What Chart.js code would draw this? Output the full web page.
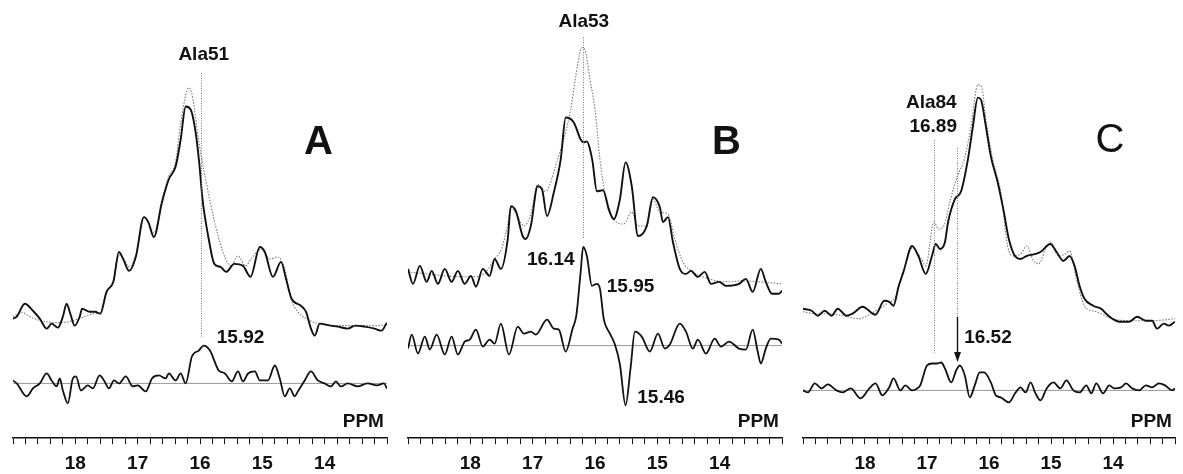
<!DOCTYPE html>
<html>
<head>
<meta charset="utf-8">
<script src="https://cdn.jsdelivr.net/npm/chart.js@4.4.0/dist/chart.umd.min.js"></script>
<style>
html, body { margin: 0; padding: 0; background: #fff; }
#wrap { position: relative; width: 1183px; height: 474px; overflow: hidden; }
canvas { position: absolute; top: 0; }
</style>
</head>
<body>
<div id="wrap">
  <canvas id="cA" width="395" height="484" style="left:0px"></canvas>
  <canvas id="cB" width="395" height="484" style="left:395px"></canvas>
  <canvas id="cC" width="393" height="484" style="left:790px"></canvas>
</div>
<script>
// [ppm, intensity]; intensity relative to each trace's baseline
const A_obs = [[19.00,2],[18.94,4],[18.81,17],[18.68,10],[18.57,2],[18.46,-8],[18.38,-3],[18.28,-7],[18.20,4],[18.14,17],[18.08,7],[18.01,-5],[17.93,4],[17.89,12],[17.77,9],[17.68,9],[17.60,7],[17.50,29],[17.39,39],[17.30,69],[17.22,60],[17.14,50],[17.03,64],[16.90,104],[16.83,99],[16.74,84],[16.61,119],[16.50,142],[16.39,155],[16.31,182],[16.23,215],[16.15,212],[16.07,189],[16.01,157],[15.96,122],[15.86,82],[15.77,57],[15.67,54],[15.58,49],[15.45,57],[15.31,55],[15.19,44],[15.04,74],[14.96,69],[14.83,44],[14.70,59],[14.62,42],[14.53,22],[14.38,15],[14.30,9],[14.22,-8],[14.16,-15],[14.08,-3],[13.90,-5],[13.79,-6],[13.63,-8],[13.51,-5],[13.36,-6],[13.20,-8],[13.09,-10],[13.00,-2]];
const A_fit = [[19.0,4],[18.85,8],[18.7,3],[18.55,0],[18.3,-2],[18.1,-1],[17.9,3],[17.7,7],[17.6,8],[17.5,28],[17.39,40],[17.3,66],[17.22,62],[17.14,54],[17.03,66],[16.9,104],[16.83,100],[16.74,88],[16.61,122],[16.5,145],[16.39,160],[16.31,198],[16.18,234],[16.12,225],[16.02,180],[15.91,142],[15.75,95],[15.59,62],[15.5,55],[15.39,65],[15.27,55],[15.18,62],[15.02,72],[14.88,62],[14.75,64],[14.64,52],[14.54,22],[14.43,9],[14.3,2],[14.1,-3],[13.8,-5],[13.5,-5],[13.2,-5],[13.0,-4]];
const A_diff = [[19.0,3],[18.94,0],[18.78,-13],[18.68,-5],[18.57,0],[18.46,10],[18.38,3],[18.30,-3],[18.25,5],[18.20,-7],[18.12,-20],[18.04,5],[17.99,7],[17.91,-7],[17.80,-2],[17.72,-5],[17.61,8],[17.54,3],[17.46,-5],[17.38,3],[17.30,0],[17.19,7],[17.08,-3],[17.00,-2],[16.87,-8],[16.77,5],[16.66,8],[16.55,5],[16.50,10],[16.39,3],[16.31,10],[16.23,0],[16.13,27],[16.02,33],[15.94,38],[15.84,33],[15.70,13],[15.60,10],[15.49,2],[15.39,12],[15.31,2],[15.23,10],[15.12,12],[15.04,3],[14.91,3],[14.80,18],[14.72,5],[14.64,-13],[14.56,-5],[14.48,-13],[14.43,-8],[14.32,3],[14.22,12],[14.11,3],[14.00,0],[13.90,-3],[13.82,2],[13.74,-3],[13.63,0],[13.47,-3],[13.31,0],[13.16,-2],[13.05,0],[13.0,-5]];

const B_obs = [[19.0,10],[18.92,-5],[18.81,13],[18.70,-3],[18.62,8],[18.52,-5],[18.41,10],[18.30,-3],[18.20,8],[18.09,-5],[17.99,3],[17.91,-8],[17.80,10],[17.69,3],[17.61,20],[17.51,10],[17.40,40],[17.35,73],[17.27,68],[17.16,43],[17.11,40],[17.03,53],[16.92,93],[16.85,90],[16.77,63],[16.66,87],[16.55,120],[16.47,162],[16.34,157],[16.23,140],[16.18,137],[16.13,138],[16.08,130],[16.04,118],[15.97,88],[15.87,89],[15.78,70],[15.70,60],[15.60,80],[15.51,117],[15.41,93],[15.31,43],[15.17,53],[15.07,82],[14.96,72],[14.91,57],[14.83,62],[14.75,37],[14.64,10],[14.54,5],[14.46,8],[14.35,2],[14.24,7],[14.14,-5],[14.01,-3],[13.90,-7],[13.69,-5],[13.58,0],[13.47,-13],[13.34,10],[13.26,-3],[13.16,-15],[13.05,-15],[13.0,-12]];
const B_fit = [[19.0,7],[18.7,5],[18.4,3],[18.0,2],[17.8,4],[17.61,20],[17.5,30],[17.4,55],[17.35,72],[17.27,66],[17.14,53],[17.03,65],[16.92,95],[16.80,88],[16.6,120],[16.39,170],[16.31,203],[16.21,232],[16.16,230],[16.08,200],[16.00,170],[15.92,120],[15.86,93],[15.78,73],[15.70,60],[15.54,55],[15.41,67],[15.31,53],[15.17,53],[15.07,80],[14.96,67],[14.83,65],[14.72,40],[14.59,17],[14.43,7],[14.17,0],[13.90,-3],[13.63,-2],[13.37,-3],[13.0,-5]];
const B_diff = [[19.0,-3],[18.94,11],[18.84,-8],[18.73,9],[18.65,-4],[18.54,11],[18.41,-9],[18.30,9],[18.20,-9],[18.09,4],[18.01,6],[17.91,16],[17.80,-1],[17.69,6],[17.61,2],[17.51,22],[17.38,-9],[17.24,19],[17.14,12],[17.03,14],[16.95,11],[16.77,26],[16.66,17],[16.58,16],[16.47,-6],[16.36,17],[16.30,30],[16.23,74],[16.19,99],[16.13,90],[16.05,60],[15.97,62],[15.92,57],[15.86,27],[15.76,12],[15.68,1],[15.60,-19],[15.51,-60],[15.43,-23],[15.36,14],[15.25,9],[15.12,-6],[14.99,12],[14.88,-3],[14.80,1],[14.64,22],[14.54,14],[14.43,-3],[14.35,6],[14.22,-8],[14.08,7],[13.98,-1],[13.85,4],[13.69,-3],[13.58,-4],[13.47,16],[13.39,-6],[13.34,-18],[13.26,-3],[13.18,7],[13.05,6],[13.0,2]];

const C_obs = [[19.0,5],[18.86,3],[18.76,-2],[18.65,3],[18.54,-2],[18.44,5],[18.30,-2],[18.20,0],[18.04,7],[17.83,-1],[17.69,13],[17.61,12],[17.54,8],[17.46,27],[17.38,42],[17.24,68],[17.14,58],[17.02,40],[16.92,58],[16.86,70],[16.79,65],[16.71,72],[16.66,92],[16.55,115],[16.45,123],[16.34,155],[16.26,188],[16.18,217],[16.13,215],[16.05,188],[15.97,158],[15.86,132],[15.76,102],[15.68,75],[15.57,57],[15.49,55],[15.39,58],[15.25,60],[15.17,62],[15.01,70],[14.91,62],[14.80,53],[14.70,58],[14.62,48],[14.54,28],[14.46,15],[14.32,8],[14.19,5],[14.11,0],[14.01,-5],[13.90,-8],[13.74,-8],[13.61,-3],[13.47,-7],[13.37,-7],[13.29,-15],[13.18,-10],[13.10,-12],[13.0,-8]];
const C_fit = [[19.0,2],[18.8,0],[18.6,0],[18.35,-2],[18.1,-5],[17.85,2],[17.65,10],[17.5,18],[17.38,42],[17.24,66],[17.1,56],[17.02,48],[16.89,92],[16.81,85],[16.73,88],[16.62,115],[16.51,138],[16.40,155],[16.29,188],[16.18,230],[16.12,228],[16.05,195],[15.94,155],[15.81,122],[15.70,68],[15.60,58],[15.49,60],[15.39,68],[15.28,53],[15.20,50],[15.09,65],[15.01,72],[14.88,58],[14.77,60],[14.70,63],[14.59,35],[14.46,8],[14.27,2],[14.01,-5],[13.74,-7],[13.37,-7],[13.0,-5]];
const C_diff = [[19.0,0],[18.92,-2],[18.81,7],[18.70,2],[18.60,6],[18.46,0],[18.36,-2],[18.23,2],[18.07,-8],[17.93,2],[17.83,7],[17.72,-5],[17.61,3],[17.54,12],[17.43,0],[17.35,5],[17.24,0],[17.16,2],[17.11,5],[17.00,25],[16.92,27],[16.84,27],[16.77,28],[16.71,22],[16.61,8],[16.53,20],[16.47,25],[16.39,15],[16.31,-7],[16.23,5],[16.15,18],[16.08,18],[15.97,8],[15.89,-5],[15.81,-7],[15.68,-12],[15.57,-2],[15.49,3],[15.41,-2],[15.33,8],[15.25,-3],[15.17,-10],[15.07,2],[14.96,8],[14.85,2],[14.75,10],[14.64,0],[14.54,-2],[14.43,5],[14.35,-3],[14.27,7],[14.16,-3],[14.06,5],[13.98,2],[13.87,3],[13.79,7],[13.69,2],[13.58,0],[13.47,5],[13.37,3],[13.26,7],[13.16,5],[13.05,0],[13.0,2]];

const ppmRange = [13, 19];
const tickLabels = [18, 17, 16, 15, 14];

const AREA_H = 440;   // chart area height in px (axis line at bottom)
const LBL = 'bold 19px "Liberation Sans", Arial, sans-serif';
const BIG = 'bold 40px "Liberation Sans", Arial, sans-serif';

const panels = [
  {
    canvas: 'cA', obs: A_obs, fit: A_fit, diff: A_diff, topBase: 322, diffBase: 385, padRight: 5,
    texts: [
      { t: 'Ala51', ppm: 15.94, y: 55, font: LBL },
      { t: 'A', ppm: 14.10, y: 143, font: BIG },
      { t: '15.92', ppm: 15.35, y: 338, font: LBL },
      { t: 'PPM', ppm: 13.05, y: 422, font: LBL, align: 'right' }
    ],
    vlines: [{ ppm: 15.99, y0: 73, y1: 337 }],
    arrow: null
  },
  {
    canvas: 'cB', obs: B_obs, fit: B_fit, diff: B_diff, topBase: 280, diffBase: 347, padRight: 5,
    texts: [
      { t: 'Ala53', ppm: 16.18, y: 22, font: LBL },
      { t: 'B', ppm: 13.89, y: 143, font: BIG },
      { t: '16.14', ppm: 16.71, y: 260, font: LBL },
      { t: '15.95', ppm: 15.43, y: 287, font: LBL },
      { t: '15.46', ppm: 14.94, y: 398, font: LBL },
      { t: 'PPM', ppm: 13.05, y: 422, font: LBL, align: 'right' }
    ],
    vlines: [{ ppm: 16.20, y0: 37, y1: 238 }],
    arrow: null
  },
  {
    canvas: 'cC', obs: C_obs, fit: C_fit, diff: C_diff, topBase: 315, diffBase: 392, padRight: 3,
    texts: [
      { t: 'Ala84', ppm: 16.93, y: 103, font: LBL },
      { t: '16.89', ppm: 16.90, y: 127, font: LBL },
      { t: 'C', ppm: 14.05, y: 141, font: '40px "Liberation Sans", Arial, sans-serif' },
      { t: '16.52', ppm: 16.40, y: 338, font: LBL, align: 'left' },
      { t: 'PPM', ppm: 13.05, y: 422, font: LBL, align: 'right' }
    ],
    vlines: [{ ppm: 16.89, y0: 140, y1: 353 }, { ppm: 16.52, y0: 148, y1: 317 }],
    arrow: { ppm: 16.52, y0: 317, y1: 362 }
  }
];

function marksPlugin(p) {
  return {
    id: 'marks',
    afterDatasetsDraw(chart) {
      const ctx = chart.ctx, xs = chart.scales.x;
      ctx.save();
      ctx.strokeStyle = '#777';
      ctx.lineWidth = 1;
      ctx.setLineDash([1, 1.5]);
      p.vlines.forEach(v => {
        const x = Math.round(xs.getPixelForValue(v.ppm)) + 0.5;
        ctx.beginPath();
        ctx.moveTo(x, v.y0);
        ctx.lineTo(x, v.y1);
        ctx.stroke();
      });
      ctx.setLineDash([]);
      if (p.arrow) {
        const x = Math.round(xs.getPixelForValue(p.arrow.ppm)) + 0.5;
        ctx.strokeStyle = '#111';
        ctx.lineWidth = 1.4;
        ctx.beginPath();
        ctx.moveTo(x, p.arrow.y0);
        ctx.lineTo(x, p.arrow.y1 - 8);
        ctx.stroke();
        ctx.fillStyle = '#111';
        ctx.beginPath();
        ctx.moveTo(x - 3.5, p.arrow.y1 - 10);
        ctx.lineTo(x + 3.5, p.arrow.y1 - 10);
        ctx.lineTo(x, p.arrow.y1);
        ctx.closePath();
        ctx.fill();
      }
      ctx.fillStyle = '#111';
      ctx.textBaseline = 'middle';
      p.texts.forEach(tx => {
        ctx.font = tx.font;
        ctx.textAlign = tx.align || 'center';
        ctx.fillText(tx.t, xs.getPixelForValue(tx.ppm), tx.y);
      });
      ctx.restore();
    }
  };
}

function build(p) {
  const topOff = AREA_H - p.topBase;
  const diffOff = AREA_H - p.diffBase;
  const pts = (arr, off) => arr.map(([x, v]) => ({ x: x, y: off + v }));
  const line = { pointRadius: 0, fill: false, cubicInterpolationMode: 'monotone' };
  new Chart(document.getElementById(p.canvas), {
    type: 'line',
    data: {
      datasets: [
        Object.assign({ data: pts(p.obs, topOff), borderColor: '#111', borderWidth: 1.9 }, line),
        Object.assign({ data: pts(p.fit, topOff), borderColor: '#7a7a7a', borderWidth: 1.1, borderDash: [1.5, 1.5] }, line),
        Object.assign({ data: pts(p.diff, diffOff), borderColor: '#111', borderWidth: 1.8 }, line),
        Object.assign({ data: [{ x: ppmRange[0], y: diffOff }, { x: ppmRange[1], y: diffOff }], borderColor: '#999', borderWidth: 1 }, line)
      ]
    },
    options: {
      responsive: false,
      animation: false,
      devicePixelRatio: 1,
      layout: { padding: { left: 13, right: p.padRight, top: 0, bottom: 1 } },
      plugins: { legend: { display: false }, tooltip: { enabled: false } },
      scales: {
        x: {
          type: 'linear',
          reverse: true,
          min: ppmRange[0],
          max: ppmRange[1],
          border: { display: true, color: '#111', width: 1.5 },
          grid: { drawOnChartArea: false, drawTicks: true, tickLength: 6, color: '#111', lineWidth: 1 },
          ticks: {
            stepSize: 0.2,
            maxTicksLimit: 100,
            autoSkip: false,
            maxRotation: 0,
            padding: 8,
            color: '#111',
            font: { family: '"Liberation Sans", Arial, sans-serif', size: 19, weight: 'bold' },
            callback: v => {
              const r = Math.round(v);
              return (Math.abs(v - r) < 1e-6 && tickLabels.includes(r)) ? String(r) : '';
            }
          }
        },
        y: { display: false, min: 0, max: AREA_H }
      }
    },
    plugins: [marksPlugin(p)]
  });
}

panels.forEach(build);
</script>
</body>
</html>
